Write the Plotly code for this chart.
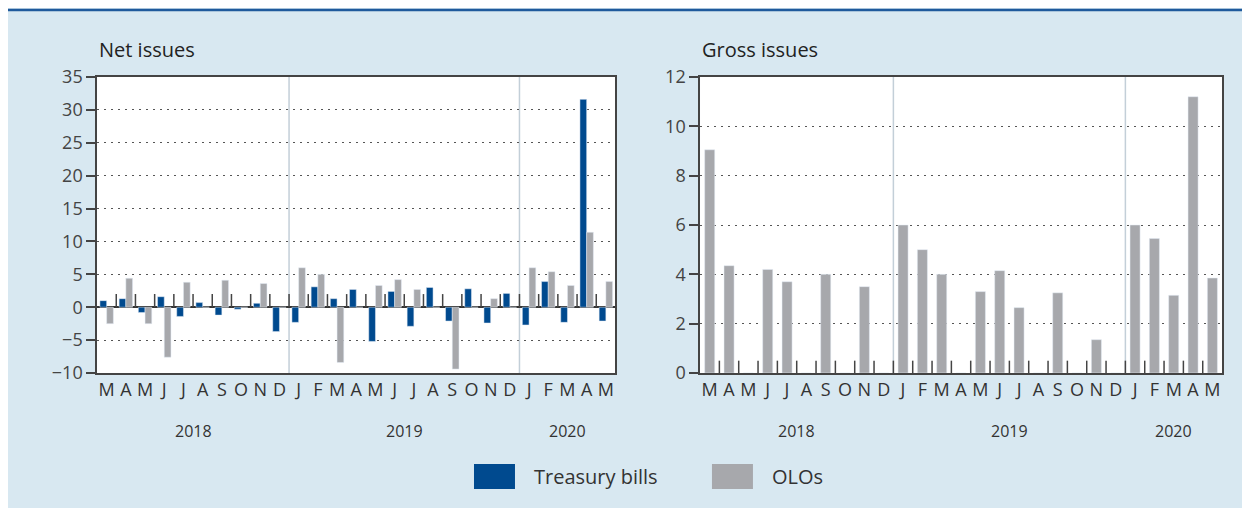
import plotly.graph_objects as go
from plotly.subplots import make_subplots

months = ["M", "A", "M", "J", "J", "A", "S", "O", "N", "D",
          "J", "F", "M", "A", "M", "J", "J", "A", "S", "O", "N", "D",
          "J", "F", "M", "A", "M"]
years = [2018] * 10 + [2019] * 12 + [2020] * 5

net_tbills = [1.0, 1.3, -0.8, 1.6, -1.4, 0.7, -1.2, -0.3, 0.6, -3.7,
              -2.3, 3.1, 1.3, 2.7, -5.2, 2.4, -2.9, 3.0, -2.1, 2.8, -2.4, 2.1,
              -2.7, 3.9, -2.3, 31.6, -2.1]
net_olos = [-2.5, 4.4, -2.5, -7.6, 3.8, 0, 4.1, 0, 3.6, 0,
            6.0, 5.0, -8.4, 0, 3.3, 4.2, 2.7, 0, -9.4, 0, 1.3, 0,
            6.0, 5.4, 3.3, 11.4, 3.9]
gross_olos = [9.05, 4.35, 0, 4.2, 3.7, 0, 4.0, 0, 3.5, 0,
              6.0, 5.0, 4.0, 0, 3.3, 4.15, 2.65, 0, 3.25, 0, 1.35, 0,
              6.0, 5.45, 3.15, 11.2, 3.85]

BLUE = "#004a8f"
GREY = "#a7a8ac"
BG = "#d8e8f1"
AXIS = "#444444"
FONT = "Open Sans"

x = list(range(len(months)))

fig = make_subplots(rows=1, cols=2)

fig.add_trace(go.Bar(x=x, y=net_tbills, name="Treasury bills", marker_color=BLUE,
                     hovertemplate="Treasury bills: %{y}<extra></extra>"), row=1, col=1)
fig.add_trace(go.Bar(x=x, y=net_olos, name="OLOs", marker_color=GREY,
                     hovertemplate="OLOs: %{y}<extra></extra>"), row=1, col=1)
fig.add_trace(go.Bar(x=x, y=gross_olos, name="OLOs", marker_color=GREY, width=0.52,
                     hovertemplate="OLOs: %{y}<extra></extra>"), row=1, col=2)


# small month-boundary ticks sitting on the zero line
def boundary_ticks(n, h):
    xs, ys = [], []
    for k in range(n - 1):
        xs += [k + 0.5, k + 0.5, None]
        ys += [0, h, None]
    return xs, ys


for col, h in [(1, 2.0), (2, 0.5)]:
    bx, by = boundary_ticks(len(months), h)
    fig.add_trace(go.Scatter(x=bx, y=by, mode="lines", line=dict(color=AXIS, width=1.5),
                             hoverinfo="skip", showlegend=False), row=1, col=col)

# year separators and year labels
year_list = sorted(set(years))
for xr, yr in [("x", "y"), ("x2", "y2")]:
    for yv in year_list[1:]:
        first = years.index(yv)
        fig.add_shape(type="line", xref=xr, yref=yr + " domain", x0=first - 0.5, x1=first - 0.5,
                      y0=0, y1=1, line=dict(color="#c3cfd8", width=1.5), layer="below")
    for yv in year_list:
        idx = [i for i, v in enumerate(years) if v == yv]
        fig.add_annotation(x=sum(idx) / len(idx), xref=xr, y=0.154, yref="paper",
                           yanchor="middle", text=str(yv), showarrow=False,
                           font=dict(size=16, color="#333"))

axis_common = dict(showline=True, linecolor=AXIS, linewidth=1.5, mirror=True, automargin=False)

fig.update_xaxes(range=[-0.5, len(months) - 0.5], tickmode="array", tickvals=x,
                 ticktext=months, ticks="", showgrid=False, zeroline=False,
                 tickfont=dict(size=18, color="#333"), **axis_common)
fig.update_yaxes(ticks="outside", ticklen=9, tickwidth=1.5, tickcolor=AXIS,
                 showgrid=True, gridcolor="#555", griddash="2px,5px", gridwidth=1,
                 tickfont=dict(size=18, color="#444"), **axis_common)

fig.update_layout(
    xaxis=dict(domain=[0.0717, 0.4891]),
    xaxis2=dict(domain=[0.5572, 0.9775]),
    yaxis=dict(domain=[0.27, 0.862], range=[-10, 35], dtick=5,
               zeroline=True, zerolinecolor="#333", zerolinewidth=1.5),
    yaxis2=dict(domain=[0.27, 0.862], range=[0, 12], dtick=2, zeroline=False),
    barmode="group",
    bargap=0.3,
    bargroupgap=0,
    showlegend=False,
    width=1242,
    height=500,
    margin=dict(l=0, r=0, t=0, b=0, pad=0, autoexpand=False),
    paper_bgcolor=BG,
    plot_bgcolor="white",
    font=dict(family=FONT, color="#333"),
)

# panel titles
for x0, title in [(0.0717, "Net issues"), (0.5572, "Gross issues")]:
    fig.add_annotation(x=x0, y=0.916, xref="paper", yref="paper", text=title,
                       xanchor="left", yanchor="middle", showarrow=False,
                       font=dict(size=20, color="#222"))

# blue rule along the top
fig.add_shape(type="line", xref="paper", yref="paper", x0=0, x1=1, y0=0.996, y1=0.996,
              line=dict(color="#1f5a9c", width=2.5))

# legend drawn by hand to get the wide swatches
for x0, color, label in [(0.3752, BLUE, "Treasury bills"), (0.5668, GREY, "OLOs")]:
    fig.add_shape(type="rect", xref="paper", yref="paper", x0=x0, x1=x0 + 0.033,
                  y0=0.038, y1=0.088, fillcolor=color, line_width=0)
    fig.add_annotation(x=x0 + 0.0467, y=0.064, xref="paper", yref="paper", text=label,
                       xanchor="left", yanchor="middle", showarrow=False,
                       font=dict(size=20, color="#333"))

fig.write_html("out.html")
